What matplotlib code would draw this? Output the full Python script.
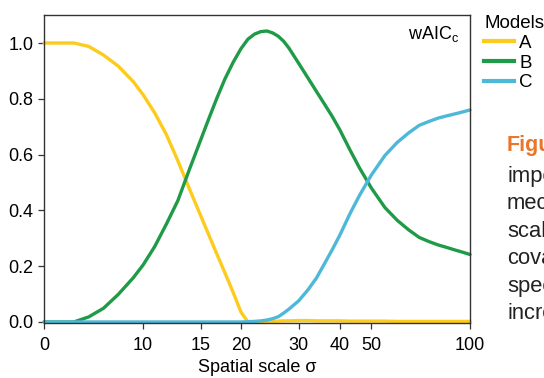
import numpy as np
import matplotlib
matplotlib.use("Agg")
import matplotlib.pyplot as plt
from matplotlib.lines import Line2D

plt.rcParams["font.family"] = ["Liberation Sans", "DejaVu Sans"]

# -------------------------------
# DATA
# -------------------------------
sigma = [0, 1.5, 3, 4.5, 6, 7.5, 9, 10, 11, 12, 13, 14, 15, 16, 17, 18, 19,
         20, 21, 22, 23, 24, 25, 26, 27, 28, 30, 32, 34, 36, 38, 40, 43, 46,
         50, 55, 60, 65, 70, 75, 80, 85, 90, 95, 100]

model_a = [1.0, 1.0, 1.0, 0.988, 0.957, 0.917, 0.862, 0.815, 0.75, 0.673,
           0.578, 0.477, 0.378, 0.31, 0.242, 0.175, 0.107,
           0.035, 0.0, 0.0, 0.0, 0.001, 0.002, 0.003, 0.004, 0.004, 0.005,
           0.005, 0.004, 0.004, 0.004, 0.004, 0.003, 0.003,
           0.003, 0.003, 0.002, 0.002, 0.002, 0.002, 0.002, 0.002, 0.002,
           0.002, 0.002]

model_b = [0.0, 0.0, 0.0, 0.018, 0.049, 0.099, 0.158, 0.204, 0.27, 0.35,
           0.435, 0.547, 0.656, 0.731, 0.804, 0.872, 0.93,
           0.98, 1.014, 1.032, 1.041, 1.043, 1.036, 1.024, 1.006, 0.982, 0.927,
           0.875, 0.826, 0.78, 0.736, 0.69, 0.617, 0.552,
           0.48, 0.41, 0.364, 0.33, 0.303, 0.288, 0.276, 0.267, 0.258, 0.25,
           0.242]

model_c = [0.0, 0.0, 0.0, 0.0, 0.0, 0.0, 0.0, 0.0, 0.0, 0.0,
           0.0, 0.0, 0.0, 0.0, 0.0, 0.0, 0.0,
           0.0, 0.001, 0.002, 0.004, 0.007, 0.012, 0.019, 0.032, 0.046, 0.076,
           0.115, 0.158, 0.21, 0.26, 0.31, 0.388, 0.454,
           0.527, 0.597, 0.644, 0.678, 0.705, 0.719, 0.731, 0.739, 0.746,
           0.753, 0.76]

models = ["A", "B", "C"]
colors = ["#FDCB1C", "#1F9B48", "#4DB8D8"]
x_ticks = [0, 10, 15, 20, 30, 40, 50, 100]
y_ticks = [0.0, 0.2, 0.4, 0.6, 0.8, 1.0]

# -------------------------------
# AXIS SCALE: stretched below 20, log above
# -------------------------------
lin_x = [0, 10, 15, 20]
lin_p = [0, 99, 157, 197]
LOGK = 142.3


def forward(x):
    x = np.asarray(x, dtype=float)
    safe = np.where(x > 20, x, 20.0)
    return np.where(x <= 20, np.interp(x, lin_x, lin_p, left=-1e3, right=197),
                    197 + LOGK * np.log(safe / 20.0))


def inverse(p):
    p = np.asarray(p, dtype=float)
    safe = np.where(p > 197, p, 197.0)
    return np.where(p <= 197, np.interp(p, lin_p, lin_x),
                    20.0 * np.exp((safe - 197) / LOGK))


fig = plt.figure(figsize=(5.44, 3.78), dpi=100)
ax = fig.add_axes([0.081, 0.146, 0.783, 0.814])
ax.set_xscale("function", functions=(forward, inverse))

for vals, c in zip([model_a, model_b, model_c], colors):
    ax.plot(sigma, vals, color=c, lw=2.4, solid_capstyle="round",
            solid_joinstyle="round", clip_on=False)

ax.set_xlim(0, 100)
ax.set_ylim(-0.003, 1.1)
ax.set_xticks(x_ticks)
ax.set_xticklabels([str(t) for t in x_ticks])
ax.xaxis.set_minor_locator(matplotlib.ticker.NullLocator())
ax.set_yticks(y_ticks)
ax.set_yticklabels([f"{t:.1f}" for t in y_ticks])
ax.tick_params(labelsize=13, length=4, width=0.9, color="#333333")
ax.tick_params(axis="x", pad=6)
ax.tick_params(axis="y", pad=3.5)
for s in ax.spines.values():
    s.set_linewidth(1.0)
    s.set_color("#333333")
ax.set_xlabel("Spatial scale σ", fontsize=13, labelpad=4)

ax.text(0.975, 0.94, r"wAIC$_\mathregular{c}$", transform=ax.transAxes,
        ha="right", va="center", fontsize=13)

# legend outside
handles = [Line2D([0], [0], color=c, lw=3) for c in colors]
fig.legend(handles, models, title="Models", frameon=False,
           loc="upper left", bbox_to_anchor=(484 / 544, 0.96),
           fontsize=13.5, title_fontsize=13.5, handlelength=1.6,
           handletextpad=0.27, labelspacing=0.14, borderpad=0.0,
           borderaxespad=0, alignment="left")

# page text clipped at the right edge
fig.text(0.932, 0.615, "Figure", color="#E8762B", fontsize=15.5,
         fontweight="bold", va="center", ha="left")
body = ["important", "mechanism", "scale", "covariance", "species", "increase"]
for i, w in enumerate(body):
    fig.text(0.932, 0.533 - i * 0.0725, w, color="#222222", fontsize=15.8,
             va="center", ha="left")

plt.savefig("out.png", dpi=100)
plt.close()
